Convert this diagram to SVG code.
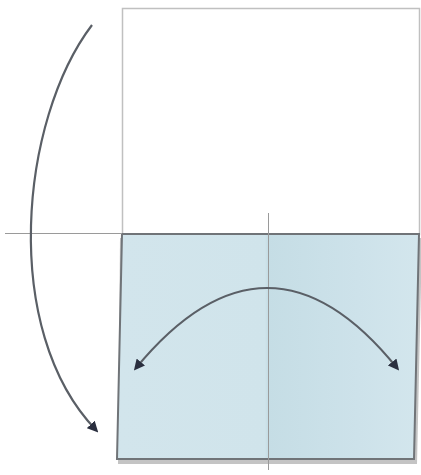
<svg xmlns="http://www.w3.org/2000/svg" width="421" height="475" viewBox="0 0 421 475">
<defs>
<marker id="ah" viewBox="0 0 10 10" refX="7" refY="5" markerWidth="5" markerHeight="5" orient="auto-start-reverse" markerUnits="strokeWidth">
<path d="M0,0 L10,5 L0,10 z" fill="#2a2f3f"/>
</marker>
<linearGradient id="fillg" x1="0" y1="0" x2="1" y2="0">
<stop offset="0" stop-color="#d2e5ec"/>
<stop offset="0.49" stop-color="#d0e4eb"/>
<stop offset="0.5" stop-color="#c5dde5"/>
<stop offset="0.8" stop-color="#cde2ea"/>
<stop offset="1" stop-color="#d3e6ed"/>
</linearGradient>
<style>
.guide{stroke:#9a9a9a;stroke-width:1;fill:none}
.arrow{stroke:#5a5f66;stroke-width:2.2;fill:none}
</style>
</defs>
<g id="top-square">
<rect x="122.5" y="8.5" width="297" height="226" fill="#ffffff" stroke="#c0c0c0" stroke-width="1.5"/>
</g>
<g id="folded-paper">
<path d="M120,238 L422,238 L417,464 L118,464 Z" fill="#8a8a8a" opacity="0.5"/>
<path d="M122,234 L419,234 L414,459 L117,459 Z" fill="url(#fillg)" stroke="#707478" stroke-width="2"/>
</g>
<g id="guides">
<line class="guide" x1="5" y1="233.5" x2="122" y2="233.5"/>
<line class="guide" x1="268.5" y1="213" x2="268.5" y2="470"/>
</g>
<g id="connectors">
<path class="arrow" d="M92,25 C20,120 0,330 96,430" marker-end="url(#ah)"/>
<path class="arrow" d="M136,368 Q268,208 397,368" marker-start="url(#ah)" marker-end="url(#ah)"/>
</g>
</svg>
